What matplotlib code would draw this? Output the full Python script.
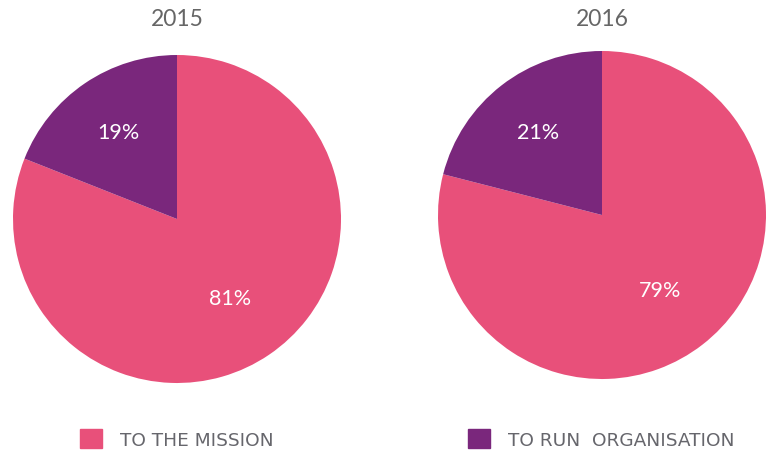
import matplotlib.pyplot as plt
from matplotlib.patches import Patch
import numpy as np

years = ['2015', '2016']
categories = ['TO THE MISSION', 'TO RUN  ORGANISATION']
mission = [81, 19]
organisation = [79, 21]
shares = [mission, organisation]
colors = ['#E8507A', '#7A277C']

plt.rcParams['font.family'] = ['Lato', 'DejaVu Sans']

fig = plt.figure(figsize=(7.73, 4.52), dpi=100)
W, H = 773, 452

# pie centres / radius in pixels
centres = [(177, 220), (602, 216)]
R = 164
label_dist = [0.58, 0.64]

for year, vals, (cx, cy) in zip(years, shares, centres):
    ax = fig.add_axes([(cx - R) / W, (H - cy - R) / H, 2 * R / W, 2 * R / H])
    wedges, texts, autotexts = ax.pie(vals, colors=colors, startangle=90,
                                      counterclock=False, autopct='%d%%',
                                      pctdistance=0.6,
                                      textprops=dict(color='white', fontsize=15.5))
    # move percentage labels to match the reference spacing
    for w, t, d in zip(wedges, autotexts, label_dist):
        ang = np.deg2rad((w.theta1 + w.theta2) / 2)
        t.set_position((d * np.cos(ang), d * np.sin(ang)))
    ax.set_xlim(-1, 1)
    ax.set_ylim(-1, 1)
    fig.text(cx / W, 1 - 20 / H, year, ha='center', va='center',
             fontsize=16.5, color='#666666')

for cat, col, x in zip(categories, colors, [80, 468]):
    fig.legend(handles=[Patch(color=col, label=cat)], loc='center left',
               bbox_to_anchor=(x / W, 1 - 440 / H), frameon=False,
               borderpad=0, borderaxespad=0, handlelength=1.2,
               handleheight=1.2, handletextpad=0.95,
               prop=dict(family='DejaVu Sans', size=13.3), labelcolor='#66666c')

fig.savefig('out.png', dpi=100)
